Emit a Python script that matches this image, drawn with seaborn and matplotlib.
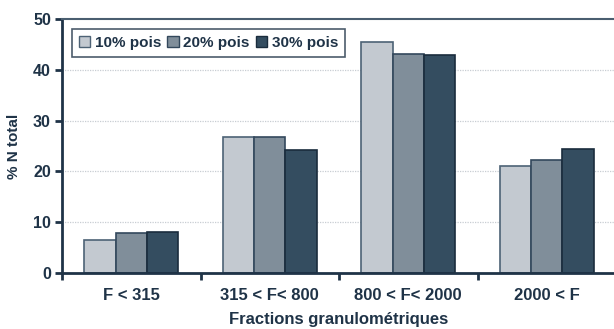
import matplotlib
matplotlib.use("Agg")
import matplotlib.pyplot as plt
import seaborn as sns
import pandas as pd
import numpy as np

categories = ["F < 315", "315 < F< 800", "800 < F< 2000", "2000 < F"]
series = ["10% pois", "20% pois", "30% pois"]
v10 = [6.5, 26.8, 45.5, 21.1]
v20 = [7.8, 26.8, 43.2, 22.3]
v30 = [8.0, 24.3, 43.0, 24.5]
yticks = [0, 10, 20, 30, 40, 50]

sns.set_theme(style="white")
plt.rcParams['font.family'] = ['Liberation Sans', 'DejaVu Sans']

rows = []
for s, vals in zip(series, [v10, v20, v30]):
    for c, v in zip(categories, vals):
        rows.append({"cat": c, "serie": s, "val": v})
df = pd.DataFrame(rows)

navy = "#1f3347"
palette = {"10% pois": "#c3c9d0", "20% pois": "#808e9a", "30% pois": "#344d60"}
edges = {"10% pois": "#4d6275", "20% pois": "#33485c", "30% pois": "#1a2c3d"}

fig = plt.figure(figsize=(6.14, 3.29), dpi=100)
ax = fig.add_axes([62/614, 1-273/329, 554/614, 254/329])
sns.barplot(data=df, x="cat", y="val", hue="serie", order=categories,
            hue_order=series, palette=palette, width=0.68, ax=ax,
            linewidth=1.2, edgecolor=navy, errorbar=None, saturation=1)
for cont, s in zip(ax.containers, series):
    for p in cont:
        p.set_edgecolor(edges[s])

ax.set_ylim(0, 50)
ax.set_xlim(-0.5, 3.5)
ax.set_yticks(yticks)
for y in yticks[1:-1]:
    ax.axhline(y, color="#c8cdd3", linestyle=(0, (1, 1)), linewidth=0.9, zorder=0)

for sp in ["left", "bottom"]:
    ax.spines[sp].set_color(navy)
    ax.spines[sp].set_linewidth(2)
ax.spines["top"].set_color("#4a5e70")
ax.spines["top"].set_linewidth(1.5)
ax.spines["right"].set_visible(False)

ax.tick_params(axis="y", length=5, width=2, color=navy, direction="out", left=True,
               labelsize=11.5, labelcolor=navy, pad=3)
ax.set_xticks(range(len(categories)))
ax.set_xticklabels(categories)
ax.tick_params(axis="x", length=0, labelsize=12, labelcolor=navy, pad=11)
ax.set_xticks(np.arange(-0.5, 4.0, 1.0), minor=True)
ax.tick_params(axis="x", which="minor", length=5, width=2, color=navy, direction="out", bottom=True)
for lab in ax.get_xticklabels() + ax.get_yticklabels():
    lab.set_fontweight("bold")

ax.set_ylabel("% N total", fontsize=11, fontweight="bold", color=navy, labelpad=9)
ax.set_xlabel("Fractions granulométriques", fontsize=12, fontweight="bold", color=navy, labelpad=6)

leg = ax.legend(loc="upper left", bbox_to_anchor=(0.018, 0.96), ncol=3, frameon=True,
                fancybox=False, edgecolor=navy, fontsize=11, handlelength=0.75,
                handleheight=0.75, handletextpad=0.3, columnspacing=0.4,
                borderpad=0.45, borderaxespad=0)
leg.get_frame().set_linewidth(1.2)
for t in leg.get_texts():
    t.set_fontweight("bold")
    t.set_color(navy)
for h, s in zip(leg.legend_handles, series):
    h.set_edgecolor(edges[s])
    h.set_linewidth(1)

fig.savefig("out.png", dpi=100)
